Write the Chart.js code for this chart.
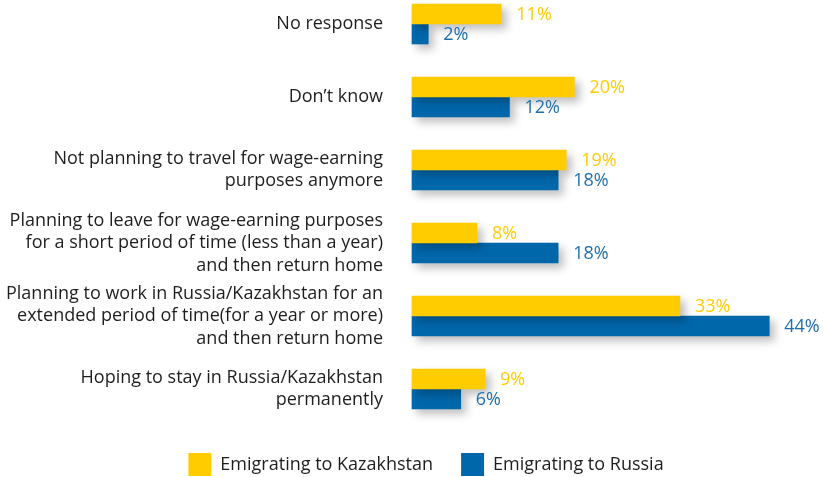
<!DOCTYPE html>
<html lang="en">
<head>
    <meta charset="UTF-8">
    <title>Emigration plans</title>
    <script src="https://cdn.jsdelivr.net/npm/chart.js"></script>
    <style>
        body {
            margin: 0;
            background: #fff;
        }

        .chart-container {
            width: 828px;
            height: 477px;
            overflow: hidden;
        }
    </style>
</head>
<body>

    <div class="chart-container">
        <canvas id="dataChart" width="828" height="486"></canvas>
    </div>

    <script>
        const categories = [
            ["No response"],
            ["Don’t know"],
            ["Not planning to travel for wage-earning", "purposes anymore"],
            ["Planning to leave for wage-earning purposes", "for a short period of time (less than a year)", "and then return home"],
            ["Planning to work in Russia/Kazakhstan for an", "extended period of time(for a year or more)", "and then return home"],
            ["Hoping to stay in Russia/Kazakhstan", "permanently"]
        ];
        const seriesNames = ["Emigrating to Kazakhstan", "Emigrating to Russia"];
        const kazakhstan = [11, 20, 19, 8, 33, 9];
        const russia = [2, 12, 18, 18, 44, 6];

        const yellow = "#ffcc00";
        const blue = "#0067ab";
        const labelBlue = "#1d6fae";
        const fontFamily = "'Open Sans', sans-serif";

        // soft drop shadow under the bars
        const barShadow = {
            id: "barShadow",
            beforeDatasetDraw(chart) {
                const ctx = chart.ctx;
                ctx.save();
                ctx.shadowColor = "rgba(0, 0, 0, 0.25)";
                ctx.shadowBlur = 8;
                ctx.shadowOffsetX = 5;
                ctx.shadowOffsetY = 5;
            },
            afterDatasetDraw(chart) {
                chart.ctx.restore();
            }
        };

        // percent labels at the end of each bar
        const valueLabels = {
            id: "valueLabels",
            afterDatasetsDraw(chart) {
                const ctx = chart.ctx;
                ctx.save();
                ctx.font = "18px " + fontFamily;
                ctx.textAlign = "left";
                ctx.textBaseline = "middle";
                chart.data.datasets.forEach((ds, i) => {
                    const meta = chart.getDatasetMeta(i);
                    ctx.fillStyle = ds.labelColor;
                    meta.data.forEach((bar, j) => {
                        ctx.fillText(ds.data[j] + "%", bar.x + 15, bar.y + 1);
                    });
                });
                ctx.restore();
            }
        };

        // legend in the original sits a bit right of centre
        const legendShift = {
            id: "legendShift",
            afterLayout(chart) {
                chart.legend.left += 17;
                chart.legend.right += 17;
            }
        };

        const ctx = document.getElementById("dataChart").getContext("2d");

        new Chart(ctx, {
            type: "bar",
            data: {
                labels: categories,
                datasets: [
                    {
                        label: seriesNames[0],
                        data: kazakhstan,
                        backgroundColor: yellow,
                        labelColor: yellow,
                        clip: false
                    },
                    {
                        label: seriesNames[1],
                        data: russia,
                        backgroundColor: blue,
                        labelColor: labelBlue,
                        clip: false
                    }
                ]
            },
            options: {
                indexAxis: "y",
                responsive: false,
                animation: false,
                datasets: {
                    bar: {
                        barThickness: 20,
                        categoryPercentage: 1,
                        barPercentage: 1
                    }
                },
                layout: {
                    padding: { top: 24, right: 10, bottom: 0, left: 0 }
                },
                scales: {
                    x: {
                        min: 0,
                        max: 50,
                        grid: { display: false },
                        border: { display: false },
                        ticks: { display: false },
                        afterFit: s => { s.height = 36; }
                    },
                    y: {
                        offset: false,
                        grid: { display: false },
                        border: { display: false },
                        ticks: {
                            autoSkip: false,
                            padding: 21,
                            color: "#1e1e1e",
                            font: { family: fontFamily, size: 18, lineHeight: 1.25 }
                        },
                        afterFit: s => {
                            s.width = 412;
                            s.paddingTop = 0;
                            s.paddingBottom = 0;
                        }
                    }
                },
                plugins: {
                    legend: {
                        position: "bottom",
                        labels: {
                            boxWidth: 23,
                            boxHeight: 23,
                            padding: 28,
                            color: "#1e1e1e",
                            font: { family: fontFamily, size: 18 }
                        }
                    },
                    tooltip: { enabled: false }
                }
            },
            plugins: [barShadow, valueLabels, legendShift]
        });
    </script>

</body>
</html>
